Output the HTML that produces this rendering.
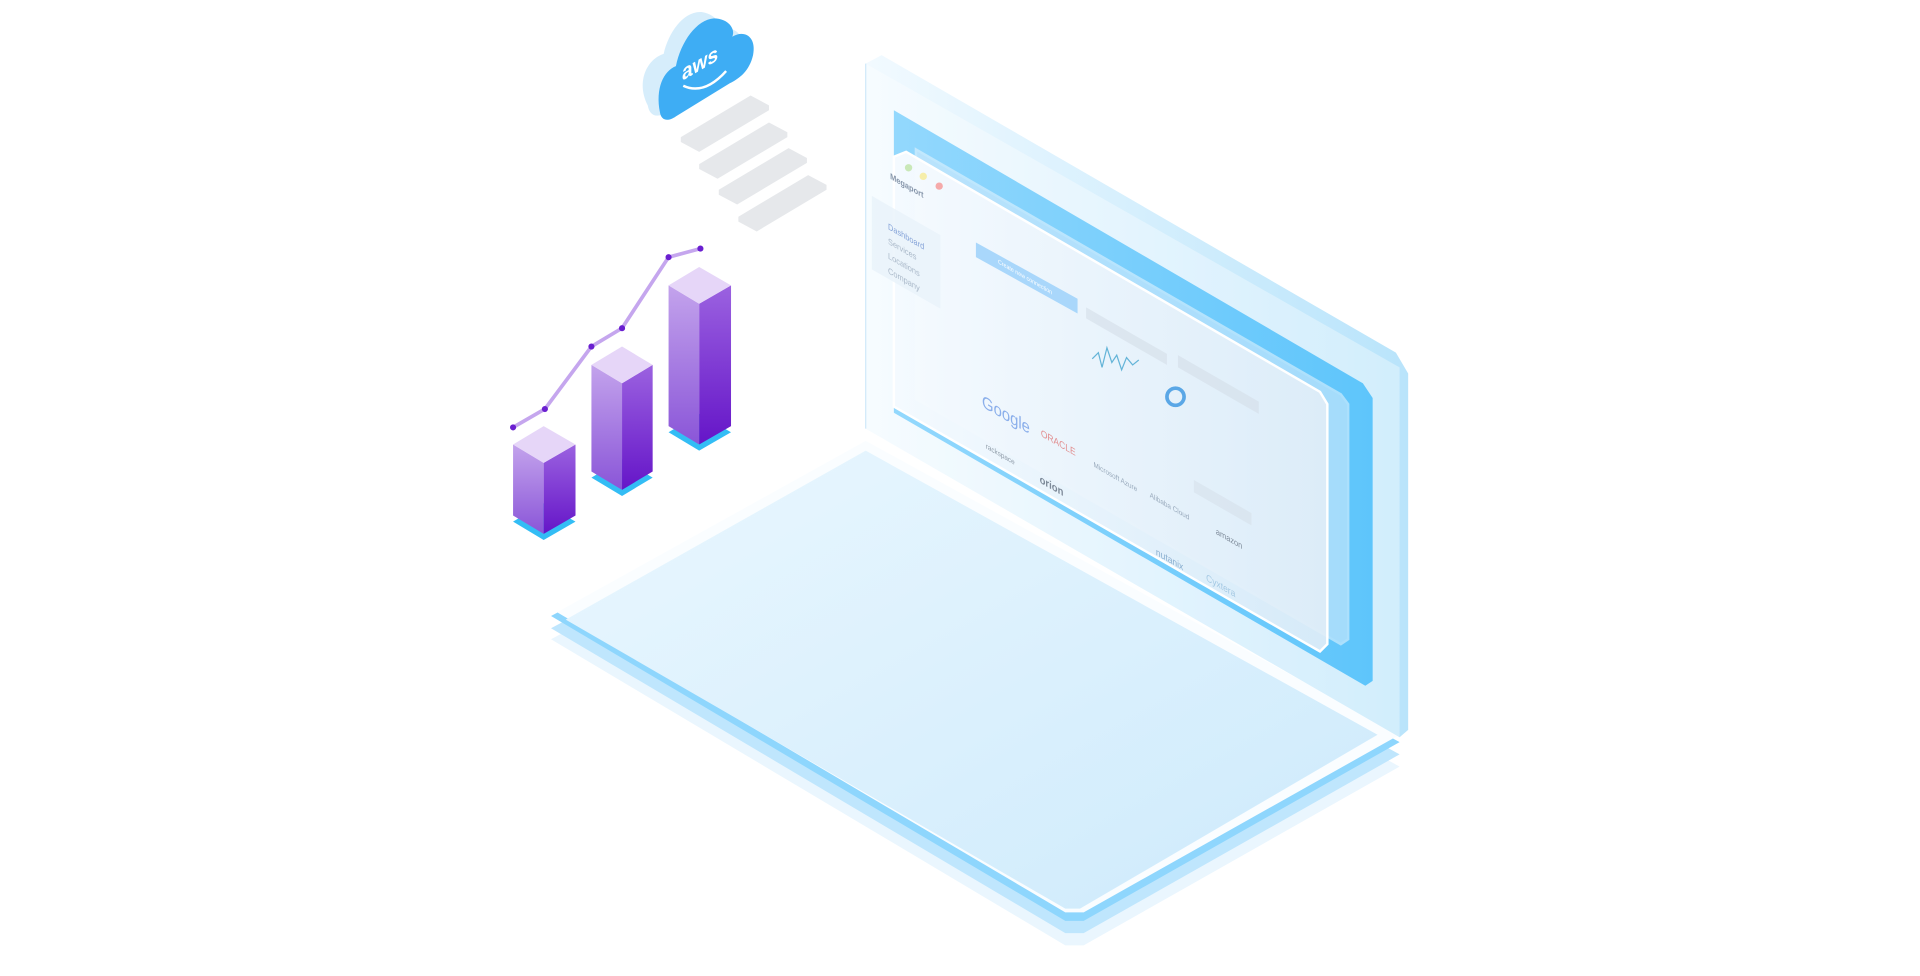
<!DOCTYPE html>
<html><head><meta charset="utf-8"><style>
html,body{margin:0;padding:0;background:#fff;width:1920px;height:976px;overflow:hidden}
svg{display:block}
text{font-family:"Liberation Sans",sans-serif}
</style></head><body>
<svg width="1920" height="976" viewBox="0 0 1568 797" preserveAspectRatio="none">
<defs>
<linearGradient id="base" x1="0" y1="0" x2="1" y2="1"><stop offset="0" stop-color="#eaf7fe"/><stop offset="1" stop-color="#cdeafc"/></linearGradient>
<linearGradient id="scr" x1="0" y1="0" x2="1" y2="0"><stop offset="0" stop-color="#93d8fd"/><stop offset="1" stop-color="#5ec5fb"/></linearGradient>
<linearGradient id="back" x1="0" y1="0" x2="1" y2="0"><stop offset="0" stop-color="#f2faff"/><stop offset="1" stop-color="#b9e4fb"/></linearGradient>
<linearGradient id="bl" x1="0" y1="0" x2="0" y2="1"><stop offset="0" stop-color="#c3a3ec"/><stop offset="1" stop-color="#8a55d8"/></linearGradient>
<linearGradient id="br" x1="0" y1="0" x2="0" y2="1"><stop offset="0" stop-color="#9b62e0"/><stop offset="1" stop-color="#6515c8"/></linearGradient>
<linearGradient id="win" x1="0" y1="0" x2="1" y2="0"><stop offset="0" stop-color="#f7fbff" stop-opacity=".97"/><stop offset="1" stop-color="#e2eef8" stop-opacity=".9"/></linearGradient>
</defs>
<polygon points="450,522 707,385 1143,626 885,772 870,772" fill="#eaf6fe"/>
<polygon points="450,513 707,376 1143,616 885,762 870,762" fill="#bfe6fd"/>
<polygon points="450,503 707,366 1143,606 885,752 870,752" fill="#8ed6fd"/>
<polygon points="455,500 707,360 1143,600 885,745 870,745" fill="#fafdff"/>
<polygon points="462,506 707,368 1125,600 882,742 870,742" fill="url(#base)"/>
<polygon points="707,52 720,45 1140,288 1150,305 1150,596 1143,602 707,350" fill="url(#back)"/>
<polygon points="707,52 707,350 1143,602 1143,300" fill="#fff" opacity=".35"/>
<line x1="707" y1="52" x2="707" y2="350" stroke="#cfe9fa"/>
<polygon points="730,90 1113,313 1121,325 1121,556 1115,560 730,337" fill="url(#scr)"/>
<polygon points="748,122 1095,322 1101,330 1101,522 1095,526 748,326" fill="#dceefc" opacity=".55" stroke="#eaf6fe" stroke-width="2"/>
<polygon points="730,128 740,124 1078,320 1084,330 1084,526 1078,532 730,332" fill="url(#win)" stroke="#fff" stroke-width="2"/>
<polygon points="712,160 768,192 768,252 712,220" fill="#e9f2fa" opacity=".8"/>
<circle cx="742" cy="137" r="3" fill="#c9e8b8"/><circle cx="754" cy="144" r="3" fill="#f6eeaa"/><circle cx="767" cy="152" r="3" fill="#f5aaaa"/>
<g transform="matrix(0.866,0.5,0,1,720,142)" font-size="7" fill="#9aaabd" opacity=".8"><text x="8" y="0" font-weight="bold" fill="#6b7d95">Megaport</text>
<text x="6" y="42" fill="#6c8fd0">Dashboard</text><text x="6" y="54">Services</text><text x="6" y="66">Locations</text><text x="6" y="78">Company</text></g>
<polygon points="797,198 880,244 880,256 797,210" fill="#a9d7fb"/>
<g transform="matrix(0.866,0.5,0,1,815,215)" font-size="5" fill="#fff"><text>Create new connection</text></g>
<polygon points="887,251 953,289 953,298 887,260" fill="#d3dee8" opacity=".6"/>
<polygon points="962,290 1028,328 1028,338 962,300" fill="#d3dee8" opacity=".6"/>
<polygon points="975,392 1022,419 1022,429 975,402" fill="#d3dee8" opacity=".5"/>
<polyline points="892,293 897,288 900,300 904,284 908,296 912,290 916,302 920,292 925,298 930,294" fill="none" stroke="#64b4d8" stroke-width="1"/>
<circle cx="960" cy="324" r="7" fill="none" stroke="#5aa7e6" stroke-width="3"/>
<g font-size="11" fill="#8a9cb0" opacity=".85">
<text transform="matrix(0.866,0.5,0,1,802,332)" font-size="14" fill="#7aa3e8">Google</text>
<text transform="matrix(0.866,0.5,0,1,850,356)" font-size="8" fill="#e07b7b">ORACLE</text>
<text transform="matrix(0.866,0.5,0,1,805,366)" font-size="6" fill="#7d8a98">rackspace</text>
<text transform="matrix(0.866,0.5,0,1,849,394)" font-size="9" font-weight="bold" fill="#6b7888">orion</text>
<text transform="matrix(0.866,0.5,0,1,893,381)" font-size="6">Microsoft Azure</text>
<text transform="matrix(0.866,0.5,0,1,939,406)" font-size="6">Alibaba Cloud</text>
<text transform="matrix(0.866,0.5,0,1,993,436)" font-size="7" fill="#6b7888">amazon</text>
<text transform="matrix(0.866,0.5,0,1,944,453)" font-size="8" fill="#7aa3c8">nutanix</text>
<text transform="matrix(0.866,0.5,0,1,985,474)" font-size="8" fill="#9bc3e0">Cyxtera</text>
</g>
<g>
<polygon points="419,426 444,441 470,426 444,411" fill="#33bdf5"/>
<polygon points="419,363 444,378 444,436 419,421" fill="url(#bl)"/>
<polygon points="444,378 470,363 470,421 444,436" fill="url(#br)"/>
<polygon points="419,363 444,348 470,363 444,378" fill="#e6d6f8"/>
<polygon points="483,390 508,405 533,390 508,375" fill="#33bdf5"/>
<polygon points="483,298 508,313 508,400 483,385" fill="url(#bl)"/>
<polygon points="508,313 533,298 533,385 508,400" fill="url(#br)"/>
<polygon points="483,298 508,283 533,298 508,313" fill="#e6d6f8"/>
<polygon points="546,353 571,368 597,353 571,338" fill="#33bdf5"/>
<polygon points="546,233 571,248 571,363 546,348" fill="url(#bl)"/>
<polygon points="571,248 597,233 597,348 571,363" fill="url(#br)"/>
<polygon points="546,233 571,218 597,233 571,248" fill="#e6d6f8"/>
</g>
<polyline points="419,349 445,334 483,283 508,268 546,210 572,203" fill="none" stroke="#c5a6ee" stroke-width="3"/>
<g fill="#6a1fd0"><circle cx="419" cy="349" r="2.5"/><circle cx="445" cy="334" r="2.5"/><circle cx="483" cy="283" r="2.5"/><circle cx="508" cy="268" r="2.5"/><circle cx="546" cy="210" r="2.5"/><circle cx="572" cy="203" r="2.5"/></g>
<g fill="#e6e8eb">
<polygon points="556,112 613,78 628,86 628,90 571,124 556,116"/>
<polygon points="571,134 628,100 643,108 643,112 586,146 571,138"/>
<polygon points="587,155 644,121 659,129 659,133 602,167 587,159"/>
<polygon points="603,177 660,143 675,151 675,155 618,189 603,181"/>
</g>
<path d="M535,90 C525,70 535,52 548,48 C552,30 565,12 580,14 C592,16 598,28 592,30 C604,24 614,30 612,45 C610,58 600,66 592,70 L548,97 C540,101 536,96 535,90Z" fill="#d6edfb" transform="translate(-6,-4)"/>
<path d="M539,92 C535,72 542,58 552,54 C556,34 569,16 583,15 C595,15 601,24 598,30 C608,24 618,30 615,45 C612,58 604,64 596,68 L552,95 C545,100 540,98 539,92Z" fill="#3eadf4"/>
<text transform="matrix(0.866,-0.5,0,1,557,66)" font-size="18" fill="#fff" font-weight="bold">aws</text>
<path d="M558,70 Q575,78 593,58" fill="none" stroke="#fff" stroke-width="2"/>
</svg>
</body></html>
